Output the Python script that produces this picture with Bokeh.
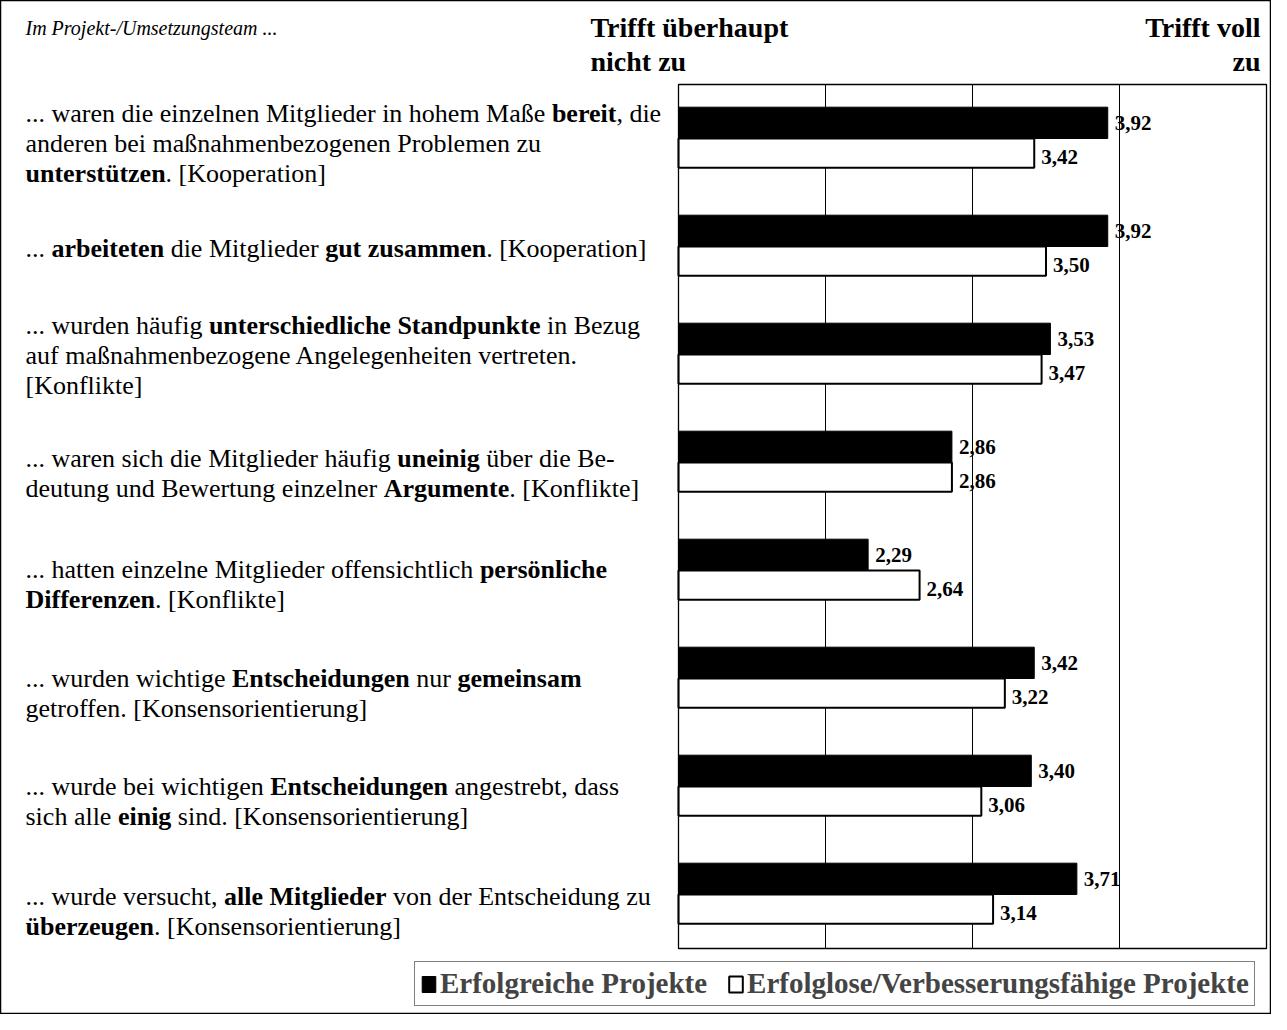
import glob, os
from bokeh.plotting import figure
from bokeh.models import Range1d, Legend, LegendItem, ColumnDataSource
from bokeh.core.properties import value
from bokeh.embed import file_html
from bokeh.resources import INLINE

# ---------------- data ----------------
statements = [
    ["... waren die einzelnen Mitglieder in hohem Maße **bereit**, die",
     "anderen bei maßnahmenbezogenen Problemen zu",
     "**unterstützen**. [Kooperation]"],
    ["... **arbeiteten** die Mitglieder **gut zusammen**. [Kooperation]"],
    ["... wurden häufig **unterschiedliche Standpunkte** in Bezug",
     "auf maßnahmenbezogene Angelegenheiten vertreten.",
     "[Konflikte]"],
    ["... waren sich die Mitglieder häufig **uneinig** über die Be-",
     "deutung und Bewertung einzelner **Argumente**. [Konflikte]"],
    ["... hatten einzelne Mitglieder offensichtlich **persönliche**",
     "**Differenzen**. [Konflikte]"],
    ["... wurden wichtige **Entscheidungen** nur **gemeinsam**",
     "getroffen. [Konsensorientierung]"],
    ["... wurde bei wichtigen **Entscheidungen** angestrebt, dass",
     "sich alle **einig** sind. [Konsensorientierung]"],
    ["... wurde versucht, **alle Mitglieder** von der Entscheidung zu",
     "**überzeugen**. [Konsensorientierung]"],
]
erfolgreich = [3.92, 3.92, 3.53, 2.86, 2.29, 3.42, 3.40, 3.71]
erfolglos = [3.42, 3.50, 3.47, 2.86, 2.64, 3.22, 3.06, 3.14]
series_names = ["Erfolgreiche Projekte", "Erfolglose/Verbesserungsfähige Projekte"]
header_left = "Im Projekt-/Umsetzungsteam ..."
scale_low = ["Trifft überhaupt", "nicht zu"]
scale_high = ["Trifft voll", "zu"]
scale_min, scale_max = 1, 5
grid_ticks = [2, 3, 4]

# ---------------- layout ----------------
W, H = 1271, 1014
FL, FR = 678, 1266
FT = 84
n = len(statements)
row_h = 108
FB = FT + n * row_h
ppu = (FR - FL) / (scale_max - scale_min)
FONT = "Liberation Serif"
BODY = 26
LINE = 30
TEXT_X = 25
text_shift = [5, 2, 1, 11, 14, 15, 15, 17]
BH_B = 0.29
BH_W = 0.27


def find_font(name):
    for base in ["/usr/share/fonts", "/usr/local/share/fonts", os.path.expanduser("~/.fonts")]:
        r = glob.glob(os.path.join(base, "**", name), recursive=True)
        if r:
            return r[0]
    return None


_fonts = {}


def tw(s, bold, size):
    if not s:
        return 0.0
    key = (bold, size)
    if key not in _fonts:
        f = None
        try:
            from PIL import ImageFont
            path = find_font("LiberationSerif-Bold.ttf" if bold else "LiberationSerif-Regular.ttf")
            if path:
                f = ImageFont.truetype(path, size)
        except Exception:
            f = None
        _fonts[key] = f
    f = _fonts[key]
    if f is None:
        return len(s) * size * (0.5 if bold else 0.45)
    return f.getlength(s)


p = figure(width=W, height=H, output_backend="svg", toolbar_location=None, tools="",
           x_range=Range1d(scale_min - FL / ppu, scale_min + (W - FL) / ppu),
           y_range=Range1d((H - FT) / row_h, -FT / row_h),
           min_border=0, x_axis_type=None, y_axis_type=None)
p.extra_x_ranges = {"px": Range1d(0, W)}
p.extra_y_ranges = {"py": Range1d(H, 0)}
p.xgrid.visible = False
p.ygrid.visible = False
p.outline_line_color = "black"
p.outline_line_width = 1.5
p.background_fill_color = "white"
p.border_fill_color = "white"

# ---------------- left texts ----------------
norm = dict(x=[], y=[], text=[])
bold = dict(x=[], y=[], text=[])
for i, lines in enumerate(statements):
    center = FT + (i + 0.5) * row_h + text_shift[i]
    nl = len(lines)
    for k, line in enumerate(lines):
        y = center + (k - (nl - 1) / 2) * LINE
        x = TEXT_X
        for j, seg in enumerate(line.split("**")):
            if not seg:
                continue
            b = (j % 2 == 1)
            lead = len(seg) - len(seg.lstrip(" "))
            trail = len(seg) - len(seg.rstrip(" "))
            core = seg.strip(" ")
            x += tw(" " * lead, b, BODY)
            if core:
                d = bold if b else norm
                d["x"].append(x)
                d["y"].append(y)
                d["text"].append(core)
                x += tw(core, b, BODY)
            x += tw(" " * trail, b, BODY)

common = dict(x_range_name="px", y_range_name="py", text_font=value(FONT),
              text_baseline="middle", text_color="black")
p.text(x="x", y="y", text="text", source=ColumnDataSource(norm), text_font_style="normal",
       text_font_size=value(f"{BODY}px"), **common)
p.text(x="x", y="y", text="text", source=ColumnDataSource(bold), text_font_style="bold",
       text_font_size=value(f"{BODY}px"), **common)

# header
p.text(x=[TEXT_X], y=[27], text=[header_left], text_font_style="italic",
       text_font_size=value("20px"), **common)
p.text(x=[590, 590], y=[27, 61], text=scale_low, text_font_style="bold",
       text_font_size=value("28px"), **common)
p.text(x=[1260, 1260], y=[27, 61], text=scale_high, text_font_style="bold", text_align="right",
       text_font_size=value("28px"), **common)

# ---------------- bars ----------------
ys_b = [i + 0.5 - BH_B / 2 for i in range(n)]
ys_w = [i + 0.5 + BH_W / 2 for i in range(n)]
src_b = ColumnDataSource(dict(y=ys_b, v=erfolgreich, lab=[f"{v:.2f}".replace(".", ",") for v in erfolgreich]))
src_w = ColumnDataSource(dict(y=ys_w, v=erfolglos, lab=[f"{v:.2f}".replace(".", ",") for v in erfolglos]))

lab_common = dict(text_font=value(FONT), text_font_style="bold", text_font_size=value("21px"),
                  text_baseline="middle", text_color="black", x_offset=7)
p.text(x="v", y="y", text="lab", source=src_b, y_offset=0, **lab_common)
p.text(x="v", y="y", text="lab", source=src_w, y_offset=4, **lab_common)

# grid lines inside the frame
p.segment(x0=grid_ticks, x1=grid_ticks, y0=[0] * len(grid_ticks), y1=[n] * len(grid_ticks),
          line_color="black", line_width=1)

rb = p.hbar(y="y", left=scale_min, right="v", height=BH_B, source=src_b,
            fill_color="black", line_color="black", line_width=1)
rw = p.hbar(y="y", left=scale_min, right="v", height=BH_W, source=src_w,
            fill_color="white", line_color="black", line_width=2)

# frame
p.quad(left=[scale_min], right=[scale_max], top=[0], bottom=[n],
       fill_color=None, line_color="black", line_width=1.3)

# ---------------- legend ----------------
legend = Legend(items=[LegendItem(label=series_names[0], renderers=[rb]),
                       LegendItem(label=series_names[1], renderers=[rw])],
                orientation="horizontal", location=(414, 8),
                label_text_font=FONT, label_text_font_style="bold", label_text_font_size="29px",
                label_height=30, glyph_width=17, glyph_height=20, label_standoff=3, spacing=20,
                padding=5, margin=0, border_line_color="black", border_line_width=1.3,
                background_fill_color="white", background_fill_alpha=1.0)
p.add_layout(legend, "center")

open("out.html", "w").write(file_html(p, INLINE))
